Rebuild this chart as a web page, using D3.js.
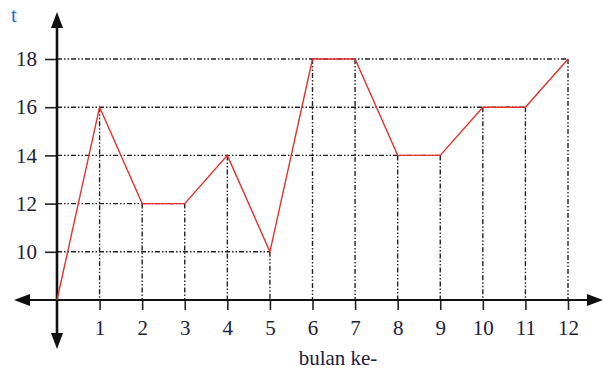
<!DOCTYPE html>
<html><head><meta charset="utf-8">
<script src="https://cdn.jsdelivr.net/npm/d3@7"></script>
<style>body{margin:0;background:#fff}svg{display:block}</style>
</head><body>
<script>
const months = [0,1,2,3,4,5,6,7,8,9,10,11,12];
const values = [8,16,12,12,14,10,18,18,14,14,16,16,18];
const xTicks = [1,2,3,4,5,6,7,8,9,10,11,12];
const yTicks = [10,12,14,16,18];
const xLabel = "bulan ke-";
const yLabel = "t";

const W=603,H=372;
const svg=d3.select("body").append("svg").attr("width",W).attr("height",H);
const x=d3.scaleLinear().domain([0,12]).range([57,568]);
const y=d3.scaleLinear().domain([8,18]).range([300,59]);
const dash="5,2,1.5,2,1.5,2";
const grid="#222";
const font="Liberation Serif";
const txt="#1d2040";

// horizontal dotted lines to furthest point with that value
yTicks.forEach(v=>{
  let last=-1; values.forEach((d,i)=>{if(d===v&&i>last)last=i;});
  if(last<0)return;
  svg.append("line").attr("x1",x(0)).attr("x2",x(months[last])).attr("y1",y(v)).attr("y2",y(v))
    .attr("stroke",grid).attr("stroke-width",1.4).attr("stroke-dasharray",dash);
});
// vertical dotted lines
months.forEach((m,i)=>{
  if(m===0)return;
  svg.append("line").attr("x1",x(m)).attr("x2",x(m)).attr("y1",y(values[i])).attr("y2",y(8))
    .attr("stroke",grid).attr("stroke-width",1.4).attr("stroke-dasharray",dash);
});

// axes
const xAxis=d3.axisBottom(x).tickValues(xTicks).tickSize(10).tickFormat(d3.format("d"));
const gx=svg.append("g").attr("transform",`translate(0,${y(8)})`).call(xAxis);
gx.select(".domain").remove();
gx.selectAll(".tick line").attr("stroke","#222").attr("stroke-width",1.6);
gx.selectAll(".tick text").attr("font-family",font).attr("font-size",21).attr("fill",txt).attr("y",20).attr("dy","0.71em");

const yAxis=d3.axisLeft(y).tickValues(yTicks).tickSize(12);
const gy=svg.append("g").attr("transform",`translate(${x(0)},0)`).call(yAxis);
gy.select(".domain").remove();
gy.selectAll(".tick line").attr("stroke","#222").attr("stroke-width",1.6);
gy.selectAll(".tick text").attr("font-family",font).attr("font-size",21).attr("fill",txt).attr("x",-20);

// axis lines
svg.append("line").attr("x1",24).attr("x2",592).attr("y1",y(8)).attr("y2",y(8)).attr("stroke","#111").attr("stroke-width",2);
svg.append("line").attr("x1",x(0)).attr("x2",x(0)).attr("y1",25).attr("y2",336).attr("stroke","#111").attr("stroke-width",2.6);
// arrowheads
const X0=x(0),Y0=y(8);
svg.append("path").attr("d",`M${X0},12 L${X0-6},28 L${X0+6},28 Z`).attr("fill","#111");
svg.append("path").attr("d",`M${X0},349 L${X0-6},333 L${X0+6},333 Z`).attr("fill","#111");
svg.append("path").attr("d",`M14,${Y0} L30,${Y0-6} L30,${Y0+6} Z`).attr("fill","#111");
svg.append("path").attr("d",`M603,${Y0} L587,${Y0-6} L587,${Y0+6} Z`).attr("fill","#111");

// data line
const line=d3.line().x((d,i)=>x(months[i])).y(d=>y(d));
svg.append("path").datum(values).attr("d",line).attr("fill","none").attr("stroke","#e8302c").attr("stroke-width",1.4);

// labels
svg.append("text").attr("x",11).attr("y",22).attr("font-family",font).attr("font-size",21).attr("fill","#1e6fd0").text(yLabel);
svg.append("text").attr("x",338).attr("y",365).attr("text-anchor","middle").attr("font-family",font).attr("font-size",21).attr("fill",txt).text(xLabel);
</script>
</body></html>
